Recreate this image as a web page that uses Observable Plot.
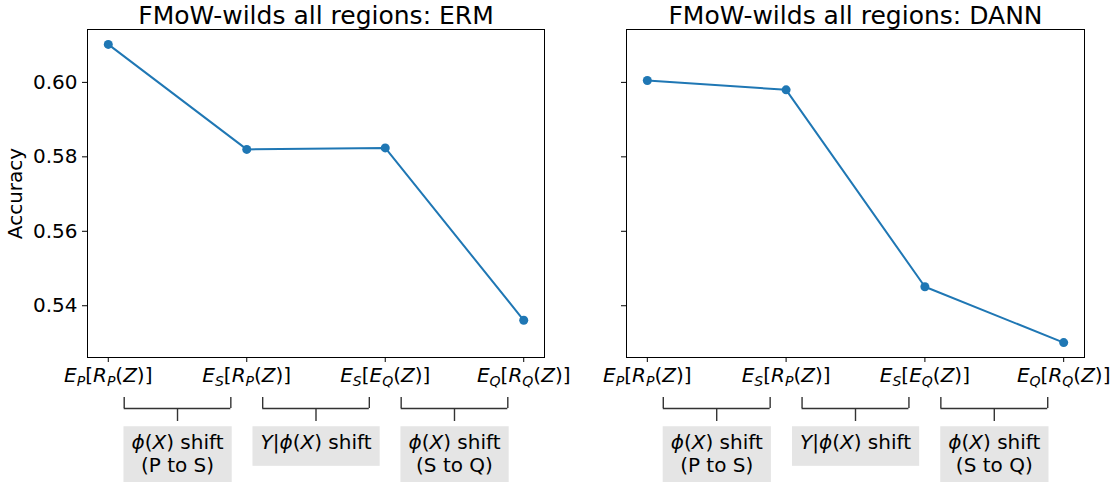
<!DOCTYPE html>
<html><head><meta charset="utf-8">
<script src="https://cdn.jsdelivr.net/npm/d3@7"></script>
<script src="https://cdn.jsdelivr.net/npm/@observablehq/plot@0.6"></script>
<style>
html,body{margin:0;padding:0;background:#fff;}
#chart{position:relative;width:1116px;height:482px;overflow:hidden;}
#chart svg{position:absolute;top:0;overflow:visible;}
</style></head><body><div id="chart"></div>
<script>
// ---- data ----
const models = ["ERM", "DANN"];
const stageLabels = ["$E_P[R_P(Z)]$", "$E_S[R_P(Z)]$", "$E_S[E_Q(Z)]$", "$E_Q[R_Q(Z)]$"];
const ermAccuracy = [0.6102, 0.5820, 0.5824, 0.5361];
const dannAccuracy = [0.6005, 0.5980, 0.5451, 0.5301];
const shiftLabels = ["$\\phi(X)$ shift\n(P to S)", "$Y|\\phi(X)$ shift", "$\\phi(X)$ shift\n(S to Q)"];
const yTicks = [0.54, 0.56, 0.58, 0.60];
const titlePrefix = "FMoW-wilds all regions: ";
const yLabel = "Accuracy";

// ---- layout ----
const H = 482, MT = 29, MB = 125;
const frameH = H - MT - MB;
const FONT = 20;
const TITLE_FONT = 25;
const blue = "#1f77b4";
const panels = [
  {model: models[0], values: ermAccuracy, left: 0, width: 580, marginLeft: 87, marginRight: 36, labels: true},
  {model: models[1], values: dannAccuracy, left: 580, width: 536, marginLeft: 46, marginRight: 32, labels: false}
];

// ---- simple mathtext to tspans ----
const NS = "http://www.w3.org/2000/svg";
const symbols = {phi: "\u03D5"};
function renderMath(el, str, fs) {
  while (el.firstChild) el.removeChild(el.firstChild);
  const subSize = fs * 0.7, subShift = fs * 0.2;
  let shifted = 0;
  const put = (s, italic, sub) => {
    const t = document.createElementNS(NS, "tspan");
    t.textContent = s;
    if (italic) t.setAttribute("font-style", "italic");
    let dy;
    if (sub) { t.setAttribute("font-size", subSize); dy = subShift - shifted; shifted = subShift; }
    else { dy = -shifted; shifted = 0; }
    if (dy) t.setAttribute("dy", dy);
    el.appendChild(t);
  };
  str.split("$").forEach((seg, k) => {
    if (!seg) return;
    if (k % 2 === 0) { put(seg, false, false); return; }
    let i = 0;
    while (i < seg.length) {
      const c = seg[i];
      if (c === "\\") {
        const m = seg.slice(i).match(/^\\([a-zA-Z]+)/);
        put(symbols[m[1]] || m[1], true, false); i += m[0].length; continue;
      }
      if (c === "_") { put(seg[i + 1], /[A-Za-z]/.test(seg[i + 1]), true); i += 2; continue; }
      put(c, /[A-Za-z]/.test(c), false); i++;
    }
  });
}
function mathText(text, fs) {
  const lines = Array.from(text.children).filter(c => c.tagName === "tspan");
  if (lines.length) lines.forEach(l => renderMath(l, l.textContent, fs));
  else renderMath(text, text.textContent, fs);
  text.style.whiteSpace = "pre";
}
function postProcess(svg) {
  svg.querySelectorAll('[aria-label="x-axis tick label"] text').forEach(t => mathText(t, FONT));
  const boxed = Array.from(svg.querySelectorAll("text")).filter(t => t.textContent.includes("$"));
  boxed.forEach(t => {
    mathText(t, FONT);
    const bb = t.getBBox();
    const r = document.createElementNS(NS, "rect");
    r.setAttribute("x", bb.x - 8);
    r.setAttribute("y", bb.y - 3.6);
    r.setAttribute("width", bb.width + 16);
    r.setAttribute("height", bb.height + 3.6 + 12);
    r.setAttribute("fill", "#e5e5e5");
    if (t.hasAttribute("transform")) r.setAttribute("transform", t.getAttribute("transform"));
    t.parentNode.insertBefore(r, t);
  });
}

const allVals = ermAccuracy.concat(dannAccuracy);
const lo = d3.min(allVals), hi = d3.max(allVals), pad = 0.05 * (hi - lo);
const n = stageLabels.length;
const xPad = 0.05 * (n - 1);
const shifts = shiftLabels.map((label, i) => ({from: i, to: i + 1, label}));
const bInset = 0.115;

const root = document.getElementById("chart");

panels.forEach(p => {
  const rows = p.values.map((v, i) => ({stage: i, accuracy: v}));
  const svg = Plot.plot({
    width: p.width, height: H,
    marginLeft: p.marginLeft, marginRight: p.marginRight, marginTop: MT, marginBottom: MB,
    style: {fontFamily: "DejaVu Sans", fontSize: FONT + "px", color: "black", background: "transparent", overflow: "visible"},
    x: {type: "linear", domain: [-xPad, n - 1 + xPad]},
    y: {domain: [lo - pad, hi + pad]},
    marks: [
      Plot.frame({stroke: "black", strokeWidth: 1}),
      Plot.axisY({ticks: yTicks, tickFormat: p.labels ? d3.format(".2f") : () => "", tickSize: 5, tickPadding: 5,
        label: p.labels ? yLabel : null, labelAnchor: "center", labelArrow: false, labelOffset: 80, fontSize: FONT}),
      Plot.axisX({ticks: d3.range(n), tickFormat: i => stageLabels[i], tickSize: 5, tickPadding: 5, label: null, fontSize: FONT}),
      Plot.line(rows, {x: "stage", y: "accuracy", stroke: blue, strokeWidth: 2}),
      Plot.dot(rows, {x: "stage", y: "accuracy", r: 4.5, fill: blue}),
      Plot.text([titlePrefix + p.model], {text: d => d, frameAnchor: "top", lineAnchor: "bottom", dy: -6, fontSize: TITLE_FONT}),
      // brackets
      Plot.ruleY(shifts, {x1: d => d.from + bInset, x2: d => d.to - bInset, y: null, dy: frameH / 2 + 51, stroke: "#333", strokeWidth: 1.4}),
      Plot.ruleX(shifts, {x: d => d.from + bInset, insetTop: frameH + 40, insetBottom: -51, stroke: "#333", strokeWidth: 1.4}),
      Plot.ruleX(shifts, {x: d => d.to - bInset, insetTop: frameH + 40, insetBottom: -51, stroke: "#333", strokeWidth: 1.4}),
      Plot.ruleX(shifts, {x: d => (d.from + d.to) / 2, insetTop: frameH + 51, insetBottom: -64, stroke: "#333", strokeWidth: 1.4}),
      Plot.text(shifts, {x: d => (d.from + d.to) / 2, text: "label", frameAnchor: "bottom", lineAnchor: "top", dy: 75, lineHeight: 1.15, fontSize: FONT})
    ]
  });
  svg.style.left = p.left + "px";
  root.appendChild(svg);
  postProcess(svg);
});
</script></body></html>
